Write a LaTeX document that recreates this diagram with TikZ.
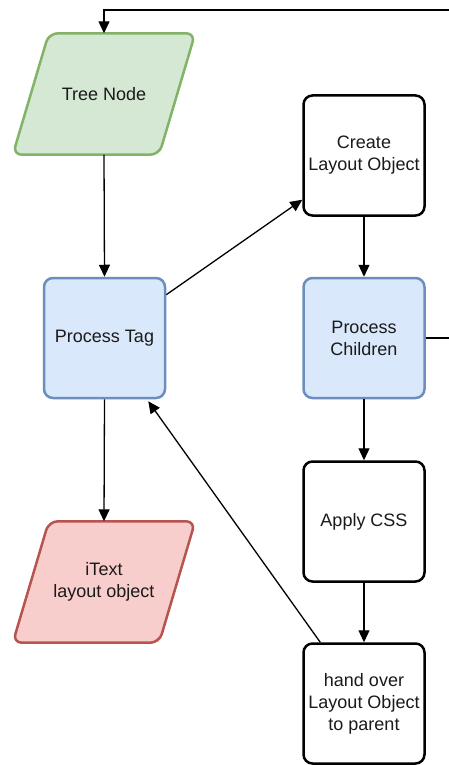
\documentclass[tikz,border=0pt]{standalone}
\usepackage{fontspec}
\setmainfont{Liberation Sans}
\usetikzlibrary{arrows.meta,backgrounds}

\definecolor{greenfill}{HTML}{D5E8D4}
\definecolor{greenline}{HTML}{82B366}
\definecolor{bluefill}{HTML}{DAE8FC}
\definecolor{blueline}{HTML}{6C8EBF}
\definecolor{redfill}{HTML}{F8CECC}
\definecolor{redline}{HTML}{B85450}
\definecolor{ink}{HTML}{1A1A1A}

\tikzset{
  label font/.style={text=ink, font=\fontsize{18}{22}\selectfont, align=center},
  box/.style={draw, rectangle, rounded corners=9pt, line width=2.5pt,
    minimum width=121pt, minimum height=120pt, inner sep=0pt, label font},
  blackbox/.style={box, draw=black, fill=white},
  bluebox/.style={box, draw=blueline, fill=bluefill},
  % text holder of a data (parallelogram) shape: the inner rectangle
  iotext/.style={rectangle, minimum width=110pt, minimum height=121pt,
    inner sep=0pt, label font},
  ioframe/.style={rounded corners=9pt, line width=2.5pt},
  flow/.style={draw=black, line width=1.3pt,
    -{Triangle[length=12pt,width=11pt]}},
}

% slanted outline around an iotext node
\newcommand{\ioslant}[2]{%
  \draw[ioframe, #2] (#1.north west) -- ([xshift=36pt]#1.north east)
    -- (#1.south east) -- ([xshift=-36pt]#1.south west) -- cycle;}

\begin{document}
\begin{tikzpicture}[x=1pt, y=-1pt]
  \clip (0,0) rectangle (449,765);

  % left column
  \node[iotext] (tree) at (104,94) {Tree Node};
  \node[bluebox] (tag) at (104.5,338) {Process Tag};
  \node[iotext] (itext) at (104,582) {iText\\layout object};

  % right column
  \node[blackbox] (create) at (364,155.5) {Create\\Layout Object};
  \node[bluebox] (children) at (364,338) {Process\\Children};
  \node[blackbox] (css) at (364,521.5) {Apply CSS};
  \node[blackbox] (handover) at (364,703.5) {hand over\\Layout Object\\to parent};

  \begin{scope}[on background layer]
    \fill[white] (0,0) rectangle (449,765);
    \ioslant{tree}{draw=greenline, fill=greenfill}
    \ioslant{itext}{draw=redline, fill=redfill}
  \end{scope}

  % loop back from the children to the next tree node
  \coordinate (loopcorner) at (475,10);
  \draw[flow] (children.east) -| (loopcorner) -| (tree.north);

  % main flow
  \draw[flow] (tree.south) -- (tag.north);
  \draw[flow] (tag.south) -- (itext.north);
  \draw[flow] ([yshift=-18pt]tag.north east) -- ([yshift=17pt]create.south west);
  \draw[flow] (create.south) -- (children.north);
  \draw[flow] (children.south) -- (css.north);
  \draw[flow] (css.south) -- (handover.north);
  \draw[flow] ([xshift=18pt]handover.north west) -- ([xshift=-18pt,yshift=-2pt]tag.south east);
\end{tikzpicture}
\end{document}
